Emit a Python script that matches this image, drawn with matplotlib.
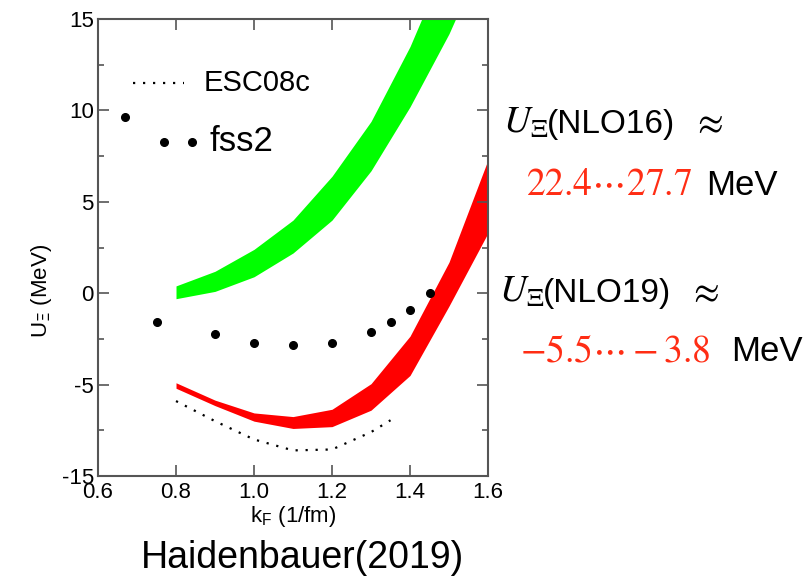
import matplotlib

matplotlib.use("Agg")
import matplotlib.pyplot as plt
from matplotlib.ticker import MultipleLocator, FixedLocator

plt.rcParams["font.family"] = ["Liberation Sans", "DejaVu Sans"]

# NLO16 band (green)
kf_band = [0.8, 0.9, 1.0, 1.1, 1.2, 1.3, 1.4, 1.5, 1.6]
nlo16_hi = [0.4, 1.2, 2.4, 4.0, 6.4, 9.4, 13.5, 18.5, 24.0]
nlo16_lo = [-0.3, 0.1, 0.9, 2.2, 4.0, 6.7, 10.2, 14.2, 19.0]
# NLO19 band (red)
nlo19_hi = [-4.9, -5.85, -6.55, -6.75, -6.35, -4.95, -2.35, 1.7, 7.3]
nlo19_lo = [-5.2, -6.15, -7.0, -7.4, -7.3, -6.4, -4.5, -0.7, 3.3]

# ESC08c (dotted)
kf_esc = [0.8, 0.9, 1.0, 1.1, 1.2, 1.3, 1.35]
u_esc = [-5.9, -7.0, -8.0, -8.6, -8.55, -7.6, -6.95]

# fss2 (dots)
kf_fss = [0.67, 0.75, 0.9, 1.0, 1.1, 1.2, 1.3, 1.35, 1.4, 1.45]
u_fss = [9.65, -1.58, -2.25, -2.7, -2.85, -2.7, -2.12, -1.58, -0.94, 0.02]

y_ticks = [-10, -5, 0, 5, 10, 15]
y_tick_labels = ["-15", "-5", "0", "5", "10", "15"]
x_ticks = [0.6, 0.8, 1.0, 1.2, 1.4, 1.6]
x_tick_labels = ["0.6", "0.8", "1.0", "1.2", "1.4", "1.6"]

fig = plt.figure(figsize=(8.12, 5.78), dpi=100)
ax = fig.add_axes([0.1207, 0.1765, 0.4803, 0.7905])

ax.fill_between(kf_band, nlo16_lo, nlo16_hi, color="#00ff00", lw=0)
ax.fill_between(kf_band, nlo19_lo, nlo19_hi, color="#ff0000", lw=0)
ax.plot(kf_esc, u_esc, color="black", lw=1.6, ls=(0, (1, 3.5)))
ax.plot(kf_fss, u_fss, "o", color="black", ms=5.5)

# legend drawn by hand like the original
ax.plot([0.69, 0.82], [11.5, 11.5], color="black", lw=1.6, ls=(0, (1, 3.5)))
ax.text(0.872, 11.5, "ESC08c", fontsize=21, va="center")
ax.plot([0.77, 0.84], [8.25, 8.25], "o", color="black", ms=5.5)
ax.text(0.885, 8.3, "fss2", fontsize=25, va="center")

ax.set_xlim(0.6, 1.6)
ax.set_ylim(-10, 15)
ax.xaxis.set_major_locator(FixedLocator(x_ticks))
ax.set_xticklabels(x_tick_labels)
ax.yaxis.set_major_locator(FixedLocator(y_ticks))
ax.set_yticklabels(y_tick_labels)
ax.yaxis.set_minor_locator(MultipleLocator(2.5))
ax.tick_params(which="both", direction="in", top=True, right=True,
               color="#555555", labelsize=16, width=1.2)
ax.tick_params(which="major", length=8)
ax.tick_params(axis="x", which="major", pad=4)
ax.tick_params(axis="y", which="major", pad=3)
ax.tick_params(which="minor", length=4)
for spine in ax.spines.values():
    spine.set_color("#555555")
    spine.set_linewidth(1.5)

ax.set_xlabel(r"k$_\mathregular{F}$ (1/fm)", fontsize=16, labelpad=1)
ax.set_ylabel(r"U$_\Xi$ (MeV)", fontsize=16)
ax.yaxis.set_label_coords(-0.112, 0.405)

fig.text(0.372, 0.018, "Haidenbauer(2019)", fontsize=27, ha="center")

red = "#ff2d14"
fig.text(0.620, 0.77, r"$U_\Xi$", fontsize=27, math_fontfamily="stix", va="baseline")
fig.text(0.674, 0.77, "(NLO16)", fontsize=24, va="baseline")
fig.text(0.852, 0.77, r"$\approx$", fontsize=27, math_fontfamily="stix", va="baseline")
fig.text(0.648, 0.662, r"$22.4\cdots27.7$", fontsize=27, math_fontfamily="stix",
         color=red, va="baseline")
fig.text(0.869, 0.662, "MeV", fontsize=25, va="baseline")

fig.text(0.615, 0.477, r"$U_\Xi$", fontsize=27, math_fontfamily="stix", va="baseline")
fig.text(0.669, 0.477, "(NLO19)", fontsize=24, va="baseline")
fig.text(0.847, 0.477, r"$\approx$", fontsize=27, math_fontfamily="stix", va="baseline")
fig.text(0.640, 0.375, r"$-5.5\cdots-3.8$", fontsize=27, math_fontfamily="stix",
         color=red, va="baseline")
fig.text(0.900, 0.375, "MeV", fontsize=25, va="baseline")

fig.savefig("out.png", dpi=100)
